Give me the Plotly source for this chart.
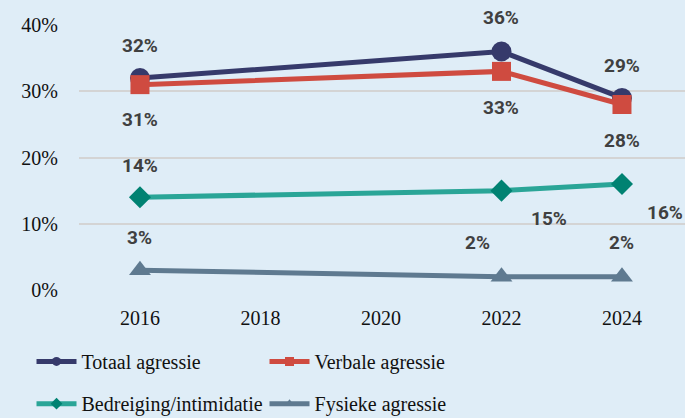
import plotly.graph_objects as go

years = [2016, 2022, 2024]
totaal = [0.32, 0.36, 0.29]
verbaal = [0.31, 0.33, 0.28]
bedreiging = [0.14, 0.15, 0.16]
fysiek = [0.03, 0.02, 0.02]

names = ["Totaal agressie", "Verbale agressie", "Bedreiging/intimidatie", "Fysieke agressie"]
series = [totaal, verbaal, bedreiging, fysiek]
line_colors = ["#363a6b", "#cf4b40", "#2aa597", "#5f7a90"]
marker_colors = ["#363a6b", "#cf4b40", "#008272", "#5f7a90"]
symbols = ["circle", "square", "diamond", "triangle-up"]
sizes = [20, 19, 17, 19]
legends = ["legend", "legend", "legend2", "legend2"]

# label offsets (px) per series per point
label_shift = [
    [(0, 33), (0, 34), (0, 32)],
    [(0, -35), (0, -36), (0, -36)],
    [(0, 32), (48, -28), (43, -28)],
    [(0, 33), (-24, 34), (0, 34)],
]

fig = go.Figure()
for name, vals, lc, mc, sym, sz, lg in zip(names, series, line_colors, marker_colors,
                                           symbols, sizes, legends):
    fig.add_trace(go.Scatter(
        x=years, y=vals, name=name, mode="lines+markers", showlegend=False,
        line=dict(color=lc, width=5),
        marker=dict(symbol=sym, size=sz, color=mc),
    ))
    # small-marker copy for the legend
    fig.add_trace(go.Scatter(
        x=[None], y=[None], name=name, mode="lines+markers", legend=lg,
        line=dict(color=lc, width=5),
        marker=dict(symbol=sym, size=9, color=mc),
    ))

for vals, shifts in zip(series, label_shift):
    for x, v, (dx, dy) in zip(years, vals, shifts):
        fig.add_annotation(
            x=x, y=v, text=f"{round(v * 100)}%", showarrow=False,
            xshift=dx, yshift=dy,
            font=dict(family="Roboto", size=19, color="#404040", weight="bold"),
        )

legend_style = dict(
    orientation="h", x=0.046, xref="container", xanchor="left",
    yref="container", yanchor="top",
    entrywidth=178, font=dict(family="Liberation Serif", size=20, color="#111111"),
    itemwidth=40, bgcolor="rgba(0,0,0,0)",
)

fig.update_layout(
    width=685, height=418,
    margin=dict(l=79, r=0, t=25, b=128),
    paper_bgcolor="#dfedf7", plot_bgcolor="#dfedf7",
    font=dict(family="Liberation Serif", size=20, color="#111111"),
    showlegend=True,
    legend=dict(y=0.182, **legend_style),
    legend2=dict(y=0.081, **legend_style),
    xaxis=dict(
        range=[2014.988, 2025.046], tickvals=[2016, 2018, 2020, 2022, 2024],
        showgrid=False, zeroline=False, showline=False, ticks="",
        ticklabelstandoff=14,
        tickfont=dict(family="Liberation Serif", size=20),
    ),
    yaxis=dict(
        range=[0, 0.4], tickvals=[0, 0.1, 0.2, 0.3, 0.4], tickformat=".0%",
        showgrid=True, gridcolor="#d4d4d4", gridwidth=2, zeroline=False,
        ticks="", ticklabelstandoff=20,
        tickfont=dict(family="Liberation Serif", size=20),
    ),
)

fig.write_html(
    "out.html",
    config={"displayModeBar": False},
    post_script="document.body.style.margin='0';document.body.style.background='#dfedf7';",
)
